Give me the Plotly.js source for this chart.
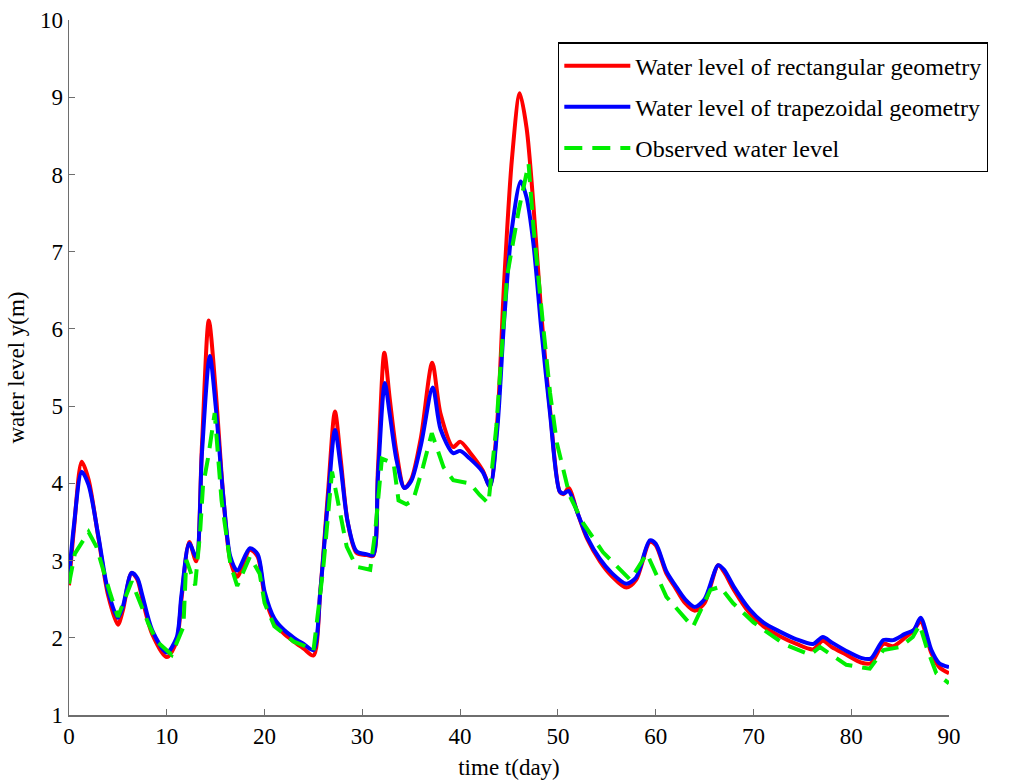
<!DOCTYPE html>
<html>
<head>
<meta charset="utf-8">
<script src="https://cdn.plot.ly/plotly-3.0.1.min.js"></script>
<style>html,body{margin:0;padding:0;background:#fff;}#chart{width:1009px;height:781px;}</style>
</head>
<body>
<div id="chart"></div>
<script>
// Rectangular geometry (red)
const rectT = [0,0.5,1.3,2.0,3.0,4.0,5.0,5.5,6.4,7.0,7.5,8.5,10.0,11.0,11.5,12.3,13.0,13.6,14.3,15.0,15.8,16.5,17.2,18.5,19.3,20.0,21.0,22.0,23.0,24.0,25.0,25.7,26.5,27.2,27.8,28.5,29.4,30.5,31.1,31.6,32.25,32.8,33.5,34.3,35.0,36.0,37.15,38.0,39.3,40.0,41.0,42.3,43.05,43.8,44.5,45.3,46.1,46.8,47.5,48.3,49.2,50.2,50.6,51.1,52.0,53.0,54.3,55.5,57.0,58.0,59.4,60.0,61.1,62.0,63.0,64.0,65.0,66.4,67.0,68.0,69.6,71.0,72.7,74.4,76.1,77.1,78.0,79.5,81.0,82.0,83.3,84.3,85.5,86.4,87.1,88.2,89.0,90.0];
const rectY = [2.68,3.4,4.28,4.05,3.3,2.55,2.17,2.35,2.84,2.75,2.5,2.05,1.75,1.95,2.5,3.24,2.99,4.5,6.11,5.2,3.8,3.0,2.79,3.14,3.05,2.55,2.2,2.05,1.95,1.86,1.77,2.6,3.9,4.93,4.3,3.5,3.10,3.07,3.06,4.2,5.69,5.1,4.4,3.94,4.05,4.6,5.56,4.9,4.47,4.54,4.4,4.17,3.96,4.8,6.6,8.2,9.05,8.6,7.6,6.2,4.95,3.89,3.86,3.94,3.62,3.28,2.99,2.80,2.65,2.75,3.24,3.2,2.83,2.65,2.45,2.35,2.45,2.94,2.85,2.62,2.32,2.15,2.02,1.92,1.85,1.96,1.88,1.78,1.68,1.67,1.92,1.89,2.0,2.1,2.21,1.80,1.62,1.54];

// Trapezoidal geometry (blue)
const trapT = [0,0.5,1.3,2.0,3.0,4.0,5.0,5.5,6.4,7.0,7.5,8.5,10.0,11.0,11.5,12.3,13.0,13.6,14.4,15.0,15.8,16.5,17.2,18.5,19.3,20.0,21.0,22.0,23.0,24.0,25.0,25.7,26.5,27.2,27.8,28.5,29.4,30.5,31.1,31.6,32.3,32.8,33.5,34.3,35.0,36.0,37.2,38.0,39.3,40.0,41.0,42.3,43.05,43.8,44.5,45.3,46.2,46.8,47.5,48.3,49.2,50.2,50.6,51.1,52.0,53.0,54.3,55.5,57.0,58.0,59.4,60.0,61.1,62.0,63.0,64.0,65.0,66.4,67.0,68.0,69.6,71.0,72.7,74.4,76.1,77.1,78.0,79.5,81.0,82.0,83.3,84.3,85.5,86.4,87.1,88.2,89.0,90.0];
const trapY = [2.78,3.45,4.15,3.98,3.32,2.6,2.26,2.4,2.84,2.77,2.55,2.1,1.81,2.0,2.55,3.22,3.05,4.4,5.65,5.0,3.8,3.05,2.87,3.16,3.08,2.6,2.25,2.1,2.0,1.92,1.84,2.6,3.8,4.69,4.2,3.5,3.12,3.08,3.07,4.1,5.30,4.9,4.3,3.94,4.03,4.5,5.24,4.7,4.39,4.42,4.32,4.15,3.96,4.7,6.1,7.3,7.91,7.7,7.1,6.0,4.9,3.89,3.87,3.90,3.62,3.3,3.02,2.84,2.70,2.78,3.26,3.22,2.86,2.68,2.5,2.40,2.5,2.94,2.88,2.66,2.37,2.2,2.08,1.98,1.92,2.01,1.94,1.83,1.74,1.73,1.97,1.97,2.05,2.1,2.26,1.84,1.67,1.62];

// Observed (green dashed)
const obsT = [0,0.6,2.0,2.8,4.2,5.0,6.4,7.4,8.1,9.0,10.5,11.7,12.0,12.9,13.4,13.7,14.25,14.9,15.6,16.5,17.2,18.5,19.5,20.0,21,22,23,24,25,26.0,26.9,27.4,28.4,29.4,30.8,31.3,32.0,33.2,33.7,34.5,35.2,36.2,37.1,38.3,39.3,41.0,42.0,42.9,43.7,44.8,46.0,47.0,47.5,48.5,49.2,49.9,51.2,52.6,54.6,57.4,59.1,61.1,63.8,65.6,66.6,67.9,70,73.1,75.8,76.8,79.5,81.9,83.3,85.0,86.3,87.0,87.7,88.7,90.0];
const obsY = [2.7,3.09,3.37,3.18,2.58,2.27,2.73,2.40,2.19,1.95,1.78,2.14,3.01,2.68,3.35,3.96,4.35,4.91,3.78,2.96,2.67,3.05,2.83,2.45,2.15,2.05,1.95,1.9,1.83,2.9,4.15,3.83,3.18,2.92,2.88,3.35,4.32,4.26,3.78,3.73,3.78,4.21,4.65,4.21,4.04,4.00,3.85,3.74,4.73,6.68,7.54,8.14,7.32,6.03,5.17,4.52,3.84,3.48,3.11,2.75,3.09,2.53,2.14,2.62,2.66,2.45,2.2,1.92,1.78,1.88,1.65,1.60,1.84,1.88,2.01,2.17,1.88,1.54,1.41];

const xTicks = [0,10,20,30,40,50,60,70,80,90];
const yTicks = [1,2,3,4,5,6,7,8,9,10];

const font = {family: 'Liberation Serif, Times New Roman, serif', size: 23, color: '#000'};
const legendFont = {family: 'Liberation Serif, Times New Roman, serif', size: 24, color: '#000'};

const traces = [
  {x: rectT, y: rectY, type: 'scatter', mode: 'lines', name: 'Water level of rectangular geometry',
   line: {color: '#ff0000', width: 4, shape: 'spline', smoothing: 0.8}, legendgroup: 'a'},
  {x: trapT, y: trapY, type: 'scatter', mode: 'lines', name: 'Water level of trapezoidal geometry',
   line: {color: '#0000ff', width: 4, shape: 'spline', smoothing: 0.8}, legendgroup: 'b'},
  {x: obsT, y: obsY, type: 'scatter', mode: 'lines', name: 'Observed water level',
   line: {color: '#00ee00', width: 4, dash: '18px,10px'}, legendgroup: 'c'}
];

const axisCommon = {
  showgrid: false, zeroline: false, showline: true, linecolor: '#6e6e6e', linewidth: 1.5,
  ticks: 'inside', ticklen: 6, tickcolor: '#6e6e6e', tickwidth: 1, tickfont: font, mirror: false
};

const layout = {
  width: 1009, height: 781,
  margin: {l: 69, r: 60, t: 20, b: 66},
  paper_bgcolor: '#fff', plot_bgcolor: '#fff',
  font: font,
  showlegend: true,
  legend: {
    x: 0.5557, y: 0.968, xanchor: 'left', yanchor: 'top',
    bordercolor: '#000', borderwidth: 1.3, bgcolor: '#fff',
    font: legendFont, tracegroupgap: 7, traceorder: 'grouped', itemwidth: 66
  },
  xaxis: Object.assign({}, axisCommon, {
    range: [0, 90], tickvals: xTicks, ticktext: xTicks.map(String),
    title: {text: 'time t(day)', font: font, standoff: 11}
  }),
  yaxis: Object.assign({}, axisCommon, {
    range: [1, 10], tickvals: yTicks, ticktext: yTicks.map(String),
    title: {text: 'water level y(m)', font: font, standoff: 9}
  })
};

Plotly.newPlot('chart', traces, layout, {displayModeBar: false, staticPlot: true});
</script>
</body>
</html>
